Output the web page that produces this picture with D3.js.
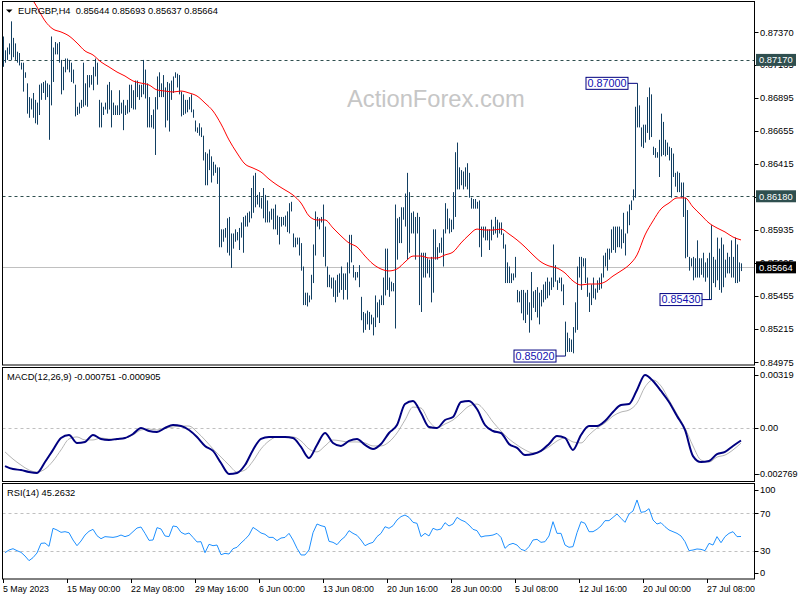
<!DOCTYPE html>
<html><head><meta charset="utf-8">
<script src="https://cdn.jsdelivr.net/npm/d3@7"></script>
<style>
body{margin:0;background:#fff}
svg{display:block}
text{font-family:"Liberation Sans",Arial,sans-serif}
</style>
</head><body>
<svg id="chart" width="800" height="600"></svg>
<script>
// ---------------- DATA ----------------
const symbol = "EURGBP,H4";
const lastOHLC = ["0.85644", "0.85693", "0.85637", "0.85664"];

// H4 bar highs / lows (one per bar, oldest first)
const highs = [
0.8734,0.8724,0.8726,0.8729,0.8745,0.8733,0.8729,0.8723,0.8722,0.8715,
0.8715,0.8708,0.8700,0.8690,0.8689,0.8693,0.8688,0.8686,0.8699,0.8700,
0.8701,0.8702,0.8700,0.8699,0.8734,0.8726,0.8730,0.8729,0.8730,0.8717,
0.8712,0.8718,0.8718,0.8717,0.8715,0.8710,0.8699,0.8683,0.8686,0.8688,
0.8715,0.8700,0.8706,0.8706,0.8706,0.8712,0.8718,0.8715,0.8688,0.8686,
0.8683,0.8686,0.8699,0.8701,0.8695,0.8686,0.8684,0.8684,0.8695,0.8686,
0.8688,0.8684,0.8688,0.8699,0.8699,0.8695,0.8702,0.8702,0.8699,0.8699,
0.8717,0.8710,0.8700,0.8690,0.8677,0.8681,0.8690,0.8705,0.8708,0.8700,
0.8706,0.8697,0.8701,0.8700,0.8702,0.8705,0.8708,0.8707,0.8706,0.8694,
0.8692,0.8688,0.8688,0.8690,0.8692,0.8681,0.8673,0.8668,0.8671,0.8668,
0.8662,0.8650,0.8649,0.8652,0.8647,0.8643,0.8641,0.8639,0.8639,0.8594,
0.8594,0.8595,0.8602,0.8603,0.8591,0.8591,0.8594,0.8592,0.8595,0.8599,
0.8603,0.8604,0.8606,0.8607,0.8624,0.8633,0.8635,0.8619,0.8621,0.8617,
0.8624,0.8619,0.8615,0.8607,0.8609,0.8609,0.8612,0.8604,0.8603,0.8603,
0.8603,0.8604,0.8607,0.8613,0.8614,0.8591,0.8588,0.8588,0.8588,0.8584,
0.8567,0.8548,0.8548,0.8546,0.8561,0.8583,0.8607,0.8603,0.8602,0.8603,
0.8612,0.8596,0.8567,0.8561,0.8559,0.8559,0.8557,0.8561,0.8562,0.8567,
0.8562,0.8562,0.8570,0.8590,0.8590,0.8568,0.8563,0.8563,0.8568,0.8545,
0.8534,0.8533,0.8535,0.8534,0.8532,0.8530,0.8546,0.8541,0.8543,0.8546,
0.8559,0.8580,0.8580,0.8559,0.8556,0.8555,0.8612,0.8602,0.8603,0.8610,
0.8610,0.8620,0.8635,0.8621,0.8606,0.8607,0.8603,0.8606,0.8603,0.8577,
0.8577,0.8577,0.8573,0.8572,0.8574,0.8594,0.8594,0.8581,0.8584,0.8588,
0.8594,0.8613,0.8609,0.8602,0.8601,0.8621,0.8650,0.8657,0.8639,0.8637,
0.8636,0.8639,0.8642,0.8635,0.8617,0.8616,0.8616,0.8614,0.8615,0.8596,
0.8596,0.8596,0.8594,0.8594,0.8601,0.8596,0.8603,0.8601,0.8599,0.8599,
0.8591,0.8583,0.8570,0.8567,0.8562,0.8562,0.8574,0.8550,0.8549,0.8550,
0.8550,0.8548,0.8550,0.8541,0.8563,0.8549,0.8550,0.8552,0.8548,0.8550,
0.8554,0.8556,0.8559,0.8556,0.8559,0.8583,0.8568,0.8557,0.8559,0.8559,
0.8554,0.8527,0.8519,0.8515,0.8514,0.8523,0.8541,0.8567,0.8574,0.8574,
0.8573,0.8573,0.8559,0.8548,0.8554,0.8559,0.8551,0.8557,0.8559,0.8562,
0.8575,0.8577,0.8580,0.8580,0.8594,0.8596,0.8596,0.8596,0.8596,0.8594,
0.8606,0.8591,0.8607,0.8612,0.8615,0.8623,0.8683,0.8700,0.8684,0.8668,
0.8670,0.8670,0.8690,0.8697,0.8692,0.8654,0.8653,0.8650,0.8659,0.8678,
0.8672,0.8659,0.8657,0.8654,0.8653,0.8649,0.8635,0.8636,0.8635,0.8628,
0.8628,0.8617,0.8608,0.8574,0.8573,0.8574,0.8573,0.8586,0.8573,0.8573,
0.8577,0.8570,0.8573,0.8577,0.8597,0.8574,0.8572,0.8588,0.8580,0.8588,
0.8583,0.8572,0.8577,0.8574,0.8586,0.8574,0.8588,0.8583,0.8570,0.85693
];
const lows = [
0.8712,0.8715,0.8717,0.8721,0.8717,0.8719,0.8717,0.8715,0.8713,0.8710,
0.8694,0.8704,0.8678,0.8675,0.8681,0.8675,0.8671,0.8670,0.8677,0.8688,
0.8693,0.8688,0.8690,0.8659,0.8684,0.8701,0.8721,0.8721,0.8715,0.8692,
0.8695,0.8708,0.8710,0.8708,0.8701,0.8700,0.8676,0.8677,0.8678,0.8682,
0.8683,0.8684,0.8683,0.8697,0.8699,0.8695,0.8705,0.8699,0.8668,0.8668,
0.8677,0.8681,0.8678,0.8681,0.8668,0.8677,0.8677,0.8677,0.8677,0.8678,
0.8666,0.8677,0.8678,0.8679,0.8682,0.8681,0.8681,0.8690,0.8688,0.8690,
0.8692,0.8689,0.8668,0.8668,0.8668,0.8667,0.8648,0.8681,0.8690,0.8690,
0.8690,0.8668,0.8673,0.8665,0.8688,0.8693,0.8704,0.8697,0.8692,0.8676,
0.8677,0.8678,0.8679,0.8681,0.8679,0.8675,0.8665,0.8664,0.8662,0.8661,
0.8644,0.8626,0.8626,0.8637,0.8628,0.8633,0.8635,0.8627,0.8581,0.8581,
0.8585,0.8588,0.8577,0.8575,0.8566,0.8580,0.8585,0.8586,0.8579,0.8588,
0.8577,0.8596,0.8596,0.8599,0.8602,0.8606,0.8610,0.8612,0.8610,0.8609,
0.8602,0.8599,0.8599,0.8599,0.8601,0.8594,0.8594,0.8590,0.8583,0.8596,
0.8597,0.8596,0.8592,0.8591,0.8607,0.8581,0.8581,0.8583,0.8575,0.8564,
0.8539,0.8539,0.8538,0.8541,0.8543,0.8555,0.8575,0.8596,0.8594,0.8599,
0.8574,0.8567,0.8552,0.8552,0.8551,0.8545,0.8541,0.8545,0.8548,0.8550,
0.8543,0.8550,0.8543,0.8562,0.8570,0.8559,0.8557,0.8559,0.8552,0.8528,
0.8519,0.8521,0.8525,0.8521,0.8525,0.8517,0.8523,0.8530,0.8526,0.8539,
0.8539,0.8546,0.8550,0.8545,0.8549,0.8549,0.8522,0.8572,0.8584,0.8584,
0.8601,0.8596,0.8572,0.8577,0.8591,0.8591,0.8572,0.8591,0.8539,0.8534,
0.8559,0.8559,0.8562,0.8559,0.8541,0.8548,0.8572,0.8572,0.8577,0.8577,
0.8567,0.8591,0.8594,0.8591,0.8592,0.8594,0.8603,0.8623,0.8623,0.8626,
0.8623,0.8625,0.8623,0.8617,0.8609,0.8609,0.8609,0.8609,0.8581,0.8574,
0.8588,0.8586,0.8586,0.8579,0.8586,0.8590,0.8591,0.8588,0.8591,0.8590,
0.8580,0.8555,0.8555,0.8555,0.8555,0.8557,0.8559,0.8541,0.8541,0.8533,
0.8528,0.8526,0.8532,0.8519,0.8528,0.8537,0.8534,0.8530,0.8525,0.8538,
0.8541,0.8543,0.8544,0.8546,0.8550,0.8552,0.8556,0.8550,0.8555,0.8549,
0.8539,0.8502,0.8505,0.8505,0.8505,0.8504,0.8519,0.8521,0.8559,0.8550,
0.8567,0.8555,0.8545,0.8534,0.8539,0.8544,0.8543,0.8548,0.8550,0.8551,
0.8559,0.8567,0.8564,0.8572,0.8577,0.8579,0.8577,0.8581,0.8581,0.8580,
0.8584,0.8575,0.8591,0.8597,0.8608,0.8615,0.8617,0.8668,0.8668,0.8654,
0.8653,0.8657,0.8664,0.8659,0.8661,0.8648,0.8646,0.8646,0.8632,0.8647,
0.8648,0.8647,0.8648,0.8644,0.8617,0.8632,0.8625,0.8621,0.8621,0.8617,
0.8603,0.8573,0.8574,0.8564,0.8567,0.8557,0.8559,0.8559,0.8559,0.8561,
0.8559,0.8556,0.8559,0.8543,0.8543,0.8555,0.8552,0.8557,0.8550,0.8548,
0.8552,0.8559,0.8562,0.8562,0.8559,0.8559,0.8555,0.8555,0.8556,0.85637
];

// moving average, read every 4th bar starting with bar 1
const maStep = 4;
const maValues = [
0.87910,0.87823,0.87736,0.87649,0.87554,0.87453,0.87394,0.87373,0.87344,0.87293,
0.87235,0.87206,0.87155,0.87119,0.87082,0.87053,0.87017,0.87002,0.86988,0.86952,
0.86944,0.86937,0.86944,0.86930,0.86908,0.86857,0.86799,0.86705,0.86589,0.86494,
0.86414,0.86385,0.86356,0.86305,0.86262,0.86226,0.86189,0.86131,0.86037,0.86008,
0.86008,0.85950,0.85892,0.85841,0.85812,0.85746,0.85688,0.85652,0.85638,0.85652,
0.85703,0.85746,0.85746,0.85732,0.85732,0.85754,0.85775,0.85841,0.85899,0.85942,
0.85935,0.85935,0.85942,0.85906,0.85863,0.85812,0.85754,0.85703,0.85674,0.85659,
0.85623,0.85565,0.85536,0.85543,0.85543,0.85558,0.85601,0.85638,0.85681,0.85754,
0.85899,0.86001,0.86088,0.86131,0.86168,0.86168,0.86102,0.86044,0.85986,0.85950,
0.85921,0.85884,0.85863
];

// MACD(12,26,9) main and signal, read every 4th bar starting with bar 1
const macdMain = [
-0.00229,-0.00247,-0.00253,-0.00265,-0.00271,-0.00205,-0.00132,-0.00060,-0.00042,-0.00090,
-0.00084,-0.00042,-0.00066,-0.00072,-0.00066,-0.00060,-0.00036,0.00000,-0.00018,-0.00024,
0.00000,0.00018,0.00012,-0.00012,-0.00054,-0.00108,-0.00138,-0.00211,-0.00277,-0.00271,
-0.00223,-0.00132,-0.00066,-0.00054,-0.00054,-0.00054,-0.00060,-0.00114,-0.00181,-0.00102,
-0.00030,-0.00090,-0.00108,-0.00078,-0.00066,-0.00102,-0.00126,-0.00096,-0.00030,0.00018,
0.00144,0.00163,0.00090,0.00006,0.00000,0.00048,0.00066,0.00157,0.00163,0.00114,
0.00018,-0.00018,-0.00030,-0.00096,-0.00120,-0.00163,-0.00157,-0.00138,-0.00096,-0.00048,
-0.00060,-0.00132,-0.00042,0.00012,0.00012,0.00042,0.00096,0.00138,0.00144,0.00229,
0.00319,0.00283,0.00223,0.00157,0.00072,-0.00012,-0.00169,-0.00205,-0.00199,-0.00157,
-0.00144,-0.00108,-0.000751
];
const macdSignal = [
-0.00144,-0.00187,-0.00223,-0.00253,-0.00265,-0.00247,-0.00199,-0.00132,-0.00066,-0.00054,
-0.00072,-0.00072,-0.00060,-0.00066,-0.00066,-0.00060,-0.00042,-0.00012,-0.00006,-0.00012,
0.00000,0.00006,0.00012,0.00012,-0.00024,-0.00072,-0.00126,-0.00175,-0.00223,-0.00265,
-0.00253,-0.00199,-0.00126,-0.00078,-0.00054,-0.00054,-0.00054,-0.00078,-0.00126,-0.00144,
-0.00108,-0.00072,-0.00078,-0.00084,-0.00084,-0.00090,-0.00108,-0.00108,-0.00084,-0.00030,
0.00048,0.00126,0.00120,0.00042,0.00000,0.00024,0.00048,0.00090,0.00132,0.00144,
0.00102,0.00036,-0.00018,-0.00066,-0.00102,-0.00132,-0.00150,-0.00138,-0.00114,-0.00078,
-0.00060,-0.00084,-0.00090,-0.00042,0.00000,0.00030,0.00072,0.00096,0.00108,0.00150,
0.00247,0.00289,0.00253,0.00169,0.00084,0.00000,-0.00108,-0.00193,-0.00205,-0.00175,
-0.00163,-0.00132,-0.000905
];

// RSI(14), read every 2nd bar starting with bar 1
const rsiStep = 2;
const rsiValues = [
27.9,30.8,32.2,30.1,28.3,24.4,19.4,22.6,27.6,37.9,38.3,34.7,54.0,52.2,49.7,50.4,49.3,41.5,35.4,40.4,
46.8,50.8,52.9,46.1,42.9,45.1,44.7,44.3,45.1,46.8,45.1,46.5,50.4,54.3,55.4,48.6,41.1,41.5,54.7,53.3,
45.8,45.1,56.5,55.7,49.7,47.6,49.0,44.3,39.4,39.7,27.9,36.9,35.4,36.1,25.8,27.2,26.5,32.2,33.7,38.3,
42.2,46.8,55.0,52.2,49.0,47.6,44.3,44.3,40.8,43.6,44.3,48.6,41.5,32.6,25.5,25.5,30.8,49.3,58.6,56.8,
55.7,40.1,39.0,36.5,41.5,45.1,51.5,48.6,46.5,41.5,35.4,37.6,39.0,45.1,48.6,55.7,54.0,56.8,62.9,
66.5,68.2,65.7,60.4,59.3,45.1,48.6,45.8,54.0,52.2,53.3,60.0,56.5,58.6,65.7,62.9,61.1,57.5,52.9,51.5,
44.7,45.8,46.1,46.8,48.6,44.3,32.6,36.5,37.9,36.1,31.5,30.1,34.4,41.5,42.2,39.0,39.7,45.8,61.1,48.6,
48.6,36.1,33.7,34.4,49.3,61.1,59.3,50.4,50.4,52.9,56.5,62.2,62.2,65.7,69.3,64.7,60.4,69.3,72.5,84.3,
71.1,71.8,75.0,62.9,58.6,60.0,55.7,52.2,50.4,48.6,45.8,39.7,30.1,30.8,31.9,31.5,30.1,37.9,36.1,45.1,
38.6,45.1,48.6,50.4,45.1,45.2632
];

// time axis: label text and the bar each label sits on
const dateLabels = ["5 May 2023","15 May 00:00","22 May 08:00","29 May 16:00","6 Jun 00:00","13 Jun 08:00",
                    "20 Jun 16:00","28 Jun 00:00","5 Jul 08:00","12 Jul 16:00","20 Jul 00:00","27 Jul 08:00"];
const dateLabelBars = [0,32,64,96,128,160,192,224,256,288,320,352];

const priceTicks = [0.87370,0.87135,0.86895,0.86655,0.86415,0.86175,0.85935,0.85695,0.85455,0.85215,0.84975];
const levelLines = [0.87170, 0.86180];
const currentPrice = 0.85664;
const annotations = [
  {text:"0.87000", bar:317, price:0.87000},
  {text:"0.85430", bar:354, price:0.85430},
  {text:"0.85020", bar:281, price:0.85020}
];
const macdTicks = [0.00319, 0.0, -0.002769];
const macdTickLabels = ["0.00319", "0.00", "-0.002769"];
const rsiTicks = [100, 70, 30, 0];
const rsiLevels = [70, 30];

// ---------------- DRAWING ----------------
const svg = d3.select("#chart");
const L = 2.5, R = 754.5;
const main = {top:1.5, bottom:365};
const macdP = {top:367.5, bottom:481.5};
const rsiP = {top:483.5, bottom:579};
const fontF = '"Liberation Sans", Arial, sans-serif';

const x = d3.scaleLinear().domain([0, highs.length - 1]).range([3, 741]);
const y = d3.scaleLinear().domain([0.84955, 0.87605]).range([365, 0]);
const yM = d3.scaleLinear().domain([-0.002769, 0.00319]).range([474, 375]);
const yR = d3.scaleLinear().domain([0, 100]).range([578.8, 485.3]);

const defs = svg.append("defs");
function clip(id, p){ defs.append("clipPath").attr("id", id).append("rect")
  .attr("x", L).attr("y", p.top).attr("width", R - L).attr("height", p.bottom - p.top); }
clip("cm", main); clip("cd", macdP); clip("cr", rsiP);

svg.append("rect").attr("width",800).attr("height",600).attr("fill","#fff");

// watermark
svg.append("text").attr("x", 347).attr("y", 107).attr("font-size", 23.7)
  .attr("fill", "#c6c6c6").attr("font-family", fontF).text("ActionForex.com");

const gMain = svg.append("g").attr("clip-path", "url(#cm)");

// level lines
levelLines.forEach(v => {
  gMain.append("line").attr("x1", L).attr("x2", R).attr("y1", Math.round(y(v)) + 0.5).attr("y2", Math.round(y(v)) + 0.5)
    .attr("stroke", "#2f4f4f").attr("stroke-dasharray", "3,3").attr("stroke-width", 1);
});
gMain.append("line").attr("x1", L).attr("x2", R).attr("y1", Math.round(y(currentPrice)) + 0.5).attr("y2", Math.round(y(currentPrice)) + 0.5)
  .attr("stroke", "#c0c0c0").attr("stroke-width", 1);

// bars
gMain.selectAll("rect.bar").data(highs).join("rect").attr("class","bar")
  .attr("x", (d,i) => x(i))
  .attr("y", d => y(d))
  .attr("width", 1)
  .attr("height", (d,i) => Math.max(1, y(lows[i]) - y(d)))
  .attr("fill", "#123f62");

// MA
const maLine = d3.line().x((d,k) => x(1 + k*maStep)).y(d => y(d)).curve(d3.curveMonotoneX);
gMain.append("path").attr("d", maLine(maValues)).attr("fill","none").attr("stroke","#ff0000").attr("stroke-width",1);

// annotations
annotations.forEach(a => {
  const bx = x(a.bar), by = y(a.price);
  const w = 42, h = 12;
  const right = bx - 9;
  svg.append("line").attr("x1", right).attr("x2", bx + 0.5).attr("y1", by).attr("y2", by)
    .attr("stroke", "#000080").attr("stroke-width", 1);
  svg.append("rect").attr("x", right - w).attr("y", by - h/2).attr("width", w).attr("height", h)
    .attr("fill", "#fff").attr("stroke", "#000080").attr("stroke-width", 1);
  svg.append("text").attr("x", right - w/2).attr("y", by).attr("dy", "0.36em").attr("text-anchor","middle")
    .attr("font-size", 10.8).attr("font-family", fontF).attr("fill", "#1010b0").text(a.text);
});

// title
svg.append("path").attr("d", "M6,9.5 L12.5,9.5 L9.25,12.8 Z").attr("fill", "#000");
svg.append("text").attr("x", 18).attr("y", 14).attr("font-size", 9.3).attr("font-family", fontF)
  .attr("fill", "#000").attr("xml:space","preserve").text(symbol + "  " + lastOHLC.join(" "));

// price axis
const gAx = svg.append("g");
priceTicks.forEach(v => {
  const yy = y(v);
  gAx.append("line").attr("x1", R).attr("x2", R + 4).attr("y1", Math.round(yy)+0.5).attr("y2", Math.round(yy)+0.5).attr("stroke","#000");
  gAx.append("text").attr("x", 760).attr("y", yy).attr("dy","0.35em").attr("font-size", 9.3)
    .attr("font-family", fontF).attr("fill","#000").text(v.toFixed(5));
});
function priceBox(v, fill){
  const yy = y(v);
  svg.append("rect").attr("x", 756).attr("y", yy - 6).attr("width", 40).attr("height", 12).attr("fill", fill);
  svg.append("text").attr("x", 759).attr("y", yy).attr("dy","0.35em").attr("font-size", 9.3)
    .attr("font-family", fontF).attr("fill","#fff").text(v.toFixed(5));
}
levelLines.forEach(v => priceBox(v, "#2f4f4f"));
priceBox(currentPrice, "#000");

// ---- MACD panel ----
const gD = svg.append("g").attr("clip-path", "url(#cd)");
gD.append("line").attr("x1", L).attr("x2", R).attr("y1", Math.round(yM(0))+0.5).attr("y2", Math.round(yM(0))+0.5)
  .attr("stroke","#c0c0c0").attr("stroke-dasharray","3,3");
const mLine = d3.line().x((d,k) => x(1 + k*maStep)).y(d => yM(d)).curve(d3.curveMonotoneX);
gD.append("path").attr("d", mLine(macdSignal)).attr("fill","none").attr("stroke","#b4b4b4").attr("stroke-width",1);
gD.append("path").attr("d", mLine(macdMain)).attr("fill","none").attr("stroke","#000080").attr("stroke-width",2);
svg.append("text").attr("x", 7).attr("y", 377).attr("dy","0.35em").attr("font-size", 9.3).attr("font-family", fontF)
  .text("MACD(12,26,9) " + macdMain[macdMain.length-1].toFixed(6) + " " + macdSignal[macdSignal.length-1].toFixed(6));
macdTicks.forEach((v,k) => {
  const yy = yM(v);
  svg.append("line").attr("x1", R).attr("x2", R+4).attr("y1", Math.round(yy)+0.5).attr("y2", Math.round(yy)+0.5).attr("stroke","#000");
  svg.append("text").attr("x", v < 0 ? 757 : 760).attr("y", yy).attr("dy","0.35em")
    .attr("font-size", v < 0 ? 9 : 9.3).attr("font-family", fontF)
    .text(macdTickLabels[k]);
});

// ---- RSI panel ----
const gR = svg.append("g").attr("clip-path", "url(#cr)");
rsiLevels.forEach(v => {
  gR.append("line").attr("x1", L).attr("x2", R).attr("y1", Math.round(yR(v))+0.5).attr("y2", Math.round(yR(v))+0.5)
    .attr("stroke","#c0c0c0").attr("stroke-dasharray","3,3");
});
const rLine = d3.line().x((d,k) => x(1 + k*rsiStep)).y(d => yR(d));
gR.append("path").attr("d", rLine(rsiValues)).attr("fill","none").attr("stroke","#1e90ff").attr("stroke-width",1);
svg.append("text").attr("x", 7).attr("y", 493).attr("dy","0.35em").attr("font-size", 9.3).attr("font-family", fontF)
  .text("RSI(14) " + rsiValues[rsiValues.length-1].toFixed(4));
rsiTicks.forEach(v => {
  const yy = Math.max(490, Math.min(573, yR(v)));
  svg.append("line").attr("x1", R).attr("x2", R+4).attr("y1", Math.round(yy)+0.5).attr("y2", Math.round(yy)+0.5).attr("stroke","#000");
  svg.append("text").attr("x", 760).attr("y", yy).attr("dy","0.35em").attr("font-size", 9.3).attr("font-family", fontF)
    .text(String(v));
});

// panel borders
[main, macdP, rsiP].forEach(p => {
  svg.append("rect").attr("x", L).attr("y", p.top).attr("width", R - L).attr("height", p.bottom - p.top)
    .attr("fill","none").attr("stroke","#000").attr("stroke-width",1);
});

// time axis
dateLabels.forEach((t,k) => {
  const xx = Math.round(x(dateLabelBars[k])) + 0.5;
  svg.append("line").attr("x1", xx).attr("x2", xx).attr("y1", rsiP.bottom).attr("y2", rsiP.bottom + 4).attr("stroke","#000");
  svg.append("text").attr("x", x(dateLabelBars[k])).attr("y", 592).attr("font-size", 8.8).attr("font-family", fontF).text(t);
});
</script>
</body></html>
